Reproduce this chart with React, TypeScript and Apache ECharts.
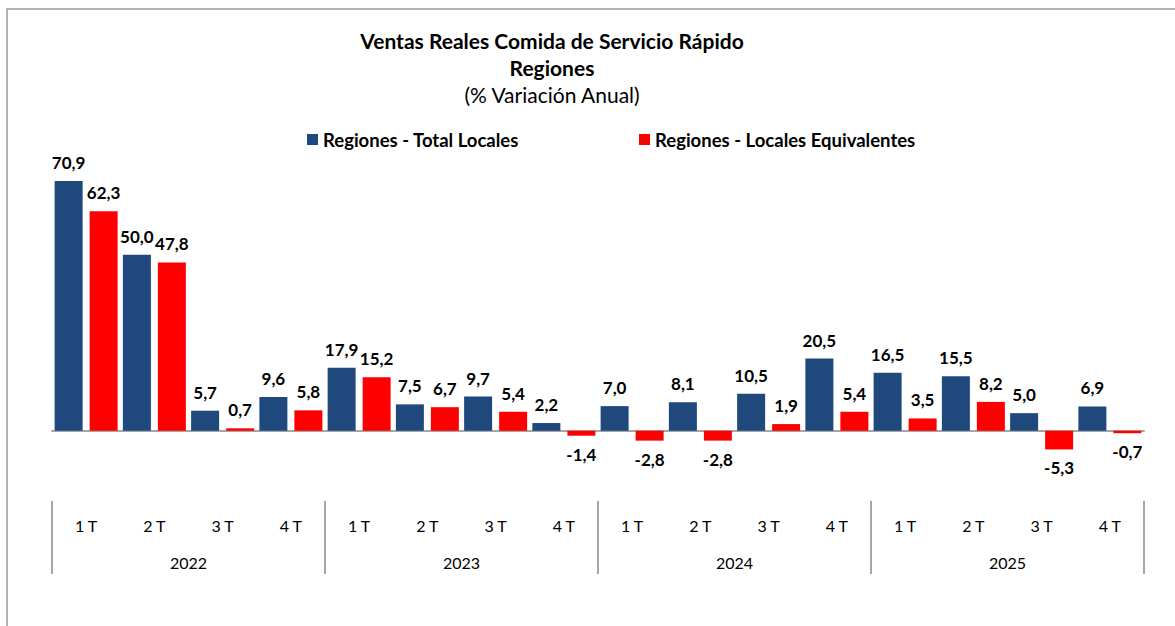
import React, { useEffect, useRef } from "react";
import * as echarts from "echarts";

const quarters = ["1 T", "2 T", "3 T", "4 T", "1 T", "2 T", "3 T", "4 T", "1 T", "2 T", "3 T", "4 T", "1 T", "2 T", "3 T", "4 T"];
const years = ["2022", "2023", "2024", "2025"];
const totalLocales = [70.9, 50.0, 5.7, 9.6, 17.9, 7.5, 9.7, 2.2, 7.0, 8.1, 10.5, 20.5, 16.5, 15.5, 5.0, 6.9];
const localesEquivalentes = [62.3, 47.8, 0.7, 5.8, 15.2, 6.7, 5.4, -1.4, -2.8, -2.8, 1.9, 5.4, 3.5, 8.2, -5.3, -0.7];
const seriesNames = ["Regiones - Total Locales", "Regiones - Locales Equivalentes"];
const titleLines = ["Ventas Reales Comida de Servicio Rápido", "Regiones", "(% Variación Anual)"];

const FONT = "Lato, 'Open Sans', sans-serif";
const BLUE = "#1F497D";
const RED = "#FF0000";
const GRAY = "#A6A6A6";

const fmt = (v: number) => v.toFixed(1).replace(".", ",");

const toItems = (arr: number[]) =>
  arr.map((v) => ({
    value: v,
    label: { position: v < 0 ? "bottom" : "top" },
  }));

export default function App() {
  const ref = useRef<HTMLDivElement>(null);
  useEffect(() => {
    if (!ref.current) return;
    const chart = echarts.init(ref.current, undefined, { renderer: "svg" });
    const labelStyle = {
      show: true,
      distance: 10,
      fontFamily: FONT,
      fontWeight: "bold" as const,
      fontSize: 17,
      color: "#000",
      formatter: (p: any) => fmt(p.value),
    };
    const legendText = { fontFamily: FONT, fontWeight: "bold" as const, fontSize: 18.5, color: "#000" };
    chart.setOption({
      animation: false,
      backgroundColor: "#fff",
      textStyle: { fontFamily: FONT },
      graphic: [
        {
          type: "rect",
          shape: { x: 7, y: 9, width: 1300, height: 800 },
          style: { fill: "none", stroke: "#999", lineWidth: 1.5 },
          silent: true,
        },
        {
          type: "text",
          x: 552,
          y: 40,
          style: { text: titleLines[0], fontFamily: FONT, fontWeight: "bold", fontSize: 21, fill: "#000", align: "center", verticalAlign: "middle" },
        },
        {
          type: "text",
          x: 552,
          y: 67,
          style: { text: titleLines[1], fontFamily: FONT, fontWeight: "bold", fontSize: 21, fill: "#000", align: "center", verticalAlign: "middle" },
        },
        {
          type: "text",
          x: 552,
          y: 94,
          style: { text: titleLines[2], fontFamily: FONT, fontWeight: "normal", fontSize: 21, fill: "#000", align: "center", verticalAlign: "middle" },
        },
      ],
      legend: [
        {
          left: 302,
          top: 125,
          data: [seriesNames[0]],
          icon: "rect",
          itemWidth: 11,
          itemHeight: 11,
          textStyle: legendText,
        },
        {
          left: 634,
          top: 125,
          data: [seriesNames[1]],
          icon: "rect",
          itemWidth: 11,
          itemHeight: 11,
          textStyle: legendText,
        },
      ],
      grid: { left: 52, right: 31, top: 149, height: 317, containLabel: false },
      xAxis: [
        {
          type: "category",
          data: quarters,
          axisLine: { onZero: true, lineStyle: { color: GRAY, width: 2 } },
          axisTick: { show: false },
          axisLabel: { show: false },
        },
        {
          type: "category",
          data: quarters,
          position: "bottom",
          offset: 35,
          axisLine: { show: false },
          axisTick: { show: false },
          axisLabel: { interval: 0, margin: 16, fontFamily: FONT, fontSize: 16, color: "#000" },
        },
        {
          type: "category",
          data: years,
          position: "bottom",
          offset: 35,
          axisLine: { show: false },
          axisTick: { show: true, length: 73, lineStyle: { color: GRAY, width: 2 } },
          axisLabel: { interval: 0, margin: 53, fontFamily: FONT, fontSize: 16, color: "#000" },
        },
      ],
      yAxis: {
        type: "value",
        min: -10,
        max: 80,
        show: false,
        splitLine: { show: false },
      },
      series: [
        {
          name: seriesNames[0],
          type: "bar",
          xAxisIndex: 0,
          data: toItems(totalLocales),
          barWidth: 28,
          barGap: "25%",
          itemStyle: { color: BLUE },
          label: labelStyle,
        },
        {
          name: seriesNames[1],
          type: "bar",
          xAxisIndex: 0,
          data: toItems(localesEquivalentes),
          barWidth: 28,
          barGap: "25%",
          itemStyle: { color: RED },
          label: labelStyle,
        },
      ],
    });
    return () => chart.dispose();
  }, []);
  return <div ref={ref} style={{ position: "absolute", left: 0, top: 0, width: 1175, height: 626 }} />;
}
